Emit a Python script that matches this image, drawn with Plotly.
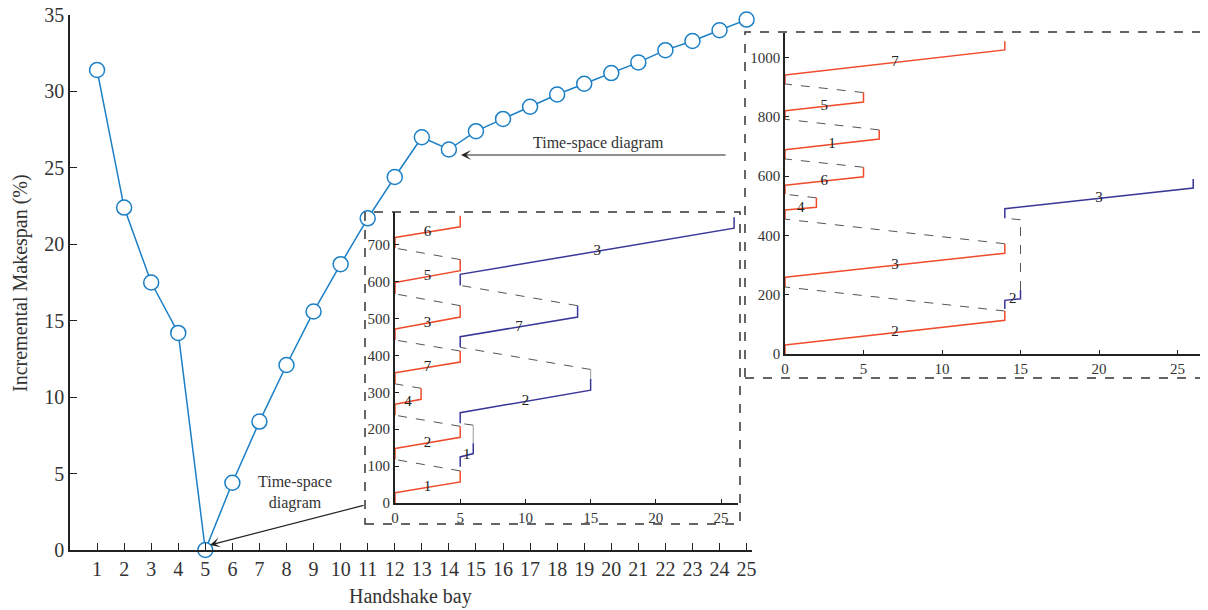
import plotly.graph_objects as go

# page body has an 8px margin, so the figure is 8px smaller and shifted
OFF = 8
W, H = 1208 - OFF, 610 - OFF

# ---------------- main series ----------------
bays = list(range(1, 26))
makespan = [31.4, 22.4, 17.5, 14.2, 0.0, 4.4, 8.4, 12.1, 15.6, 18.7, 21.7, 24.4,
            27.0, 26.2, 27.4, 28.2, 29.0, 29.8, 30.5, 31.2, 31.9, 32.7, 33.3, 34.0, 34.7]
y_ticks = [0, 5, 10, 15, 20, 25, 30, 35]

# ---------------- inset A: handshake bay 5 ----------------
a_hs = 5
a_red_jobs = [1, 2, 4, 7, 3, 5, 6]
a_red_dest = [5, 5, 2, 5, 5, 5, 5]
a_red_pick = [0, 118, 238, 323, 442, 567, 691]
a_red_dep = [28, 148, 268, 353, 472, 598, 720]
a_red_arr = [57, 178, 281, 382, 504, 630, 749]
a_red_rel = [87, 208, 311, 412, 535, 660, 779]
a_blue_jobs = [1, 2, 7, 3]
a_blue_dest = [6, 15, 14, 26]
a_blue_pick = [98, 216, 422, 590]
a_blue_dep = [125, 245, 451, 620]
a_blue_arr = [134, 306, 504, 745]
a_blue_rel = [162, 336, 535, 775]
a_blue_wait = [211, 362, 535, None]
a_yticks = [0, 100, 200, 300, 400, 500, 600, 700]

# ---------------- inset B: handshake bay 14 ----------------
b_hs = 14
b_red_jobs = [2, 3, 4, 6, 1, 5, 7]
b_red_dest = [14, 14, 2, 5, 6, 5, 14]
b_red_pick = [0, 226, 455, 539, 658, 792, 911]
b_red_dep = [30, 259, 486, 569, 689, 821, 941]
b_red_arr = [114, 340, 495, 598, 725, 850, 1026]
b_red_rel = [145, 372, 527, 630, 756, 882, 1055]
b_blue_jobs = [2, 3]
b_blue_dest = [15, 26]
b_blue_pick = [152, 458]
b_blue_dep = [181, 490]
b_blue_arr = [186, 560]
b_blue_rel = [216, 590]
b_blue_wait = [453, None]
b_yticks = [0, 200, 400, 600, 800, 1000]

inset_xticks = [0, 5, 10, 15, 20, 25]

RED = "#ef4a2a"
BLUE = "#3b3799"
GREY = "#555555"
MAIN = "#1b7fc6"
FONT = "Liberation Serif"
TXT = "#333333"

fig = go.Figure()

fig.add_trace(go.Scatter(
    x=bays, y=makespan, mode="lines+markers", xaxis="x", yaxis="y",
    line=dict(color=MAIN, width=1.5),
    marker=dict(symbol="circle", size=15, color="white", line=dict(color=MAIN, width=1.5)),
    cliponaxis=False, showlegend=False, hoverinfo="skip"))


def add_inset(xa, ya, hs, rj, rd, rp, rdep, rarr, rrel, bj, bd, bp, bdep, barr, brel, bwait, wait_dash):
    rx, ry = [], []
    for i in range(len(rj)):
        rx += [0, 0, rd[i], rd[i], None]
        ry += [rp[i], rdep[i], rarr[i], rrel[i], None]
    gx, gy = [], []
    for i in range(len(rj) - 1):
        gx += [rd[i], 0, None]
        gy += [rrel[i], rp[i + 1], None]
    bx, by = [], []
    for i in range(len(bj)):
        bx += [hs, hs, bd[i], bd[i], None]
        by += [bp[i], bdep[i], barr[i], brel[i], None]
    wx, wy = [], []
    for i in range(len(bj) - 1):
        w = bwait[i]
        if w is not None and w > brel[i]:
            wx += [bd[i], bd[i], None]
            wy += [brel[i], w, None]
        gx += [bd[i], hs, None]
        gy += [w if w is not None else brel[i], bp[i + 1], None]
    fig.add_trace(go.Scatter(x=gx, y=gy, mode="lines", xaxis=xa, yaxis=ya,
                             line=dict(color=GREY, width=1, dash="dash"),
                             showlegend=False, hoverinfo="skip"))
    if wait_dash:
        wline = dict(color=GREY, width=1, dash="dash")
    else:
        wline = dict(color="#aaaaaa", width=1.2)
    fig.add_trace(go.Scatter(x=wx, y=wy, mode="lines", xaxis=xa, yaxis=ya, line=wline,
                             showlegend=False, hoverinfo="skip"))
    fig.add_trace(go.Scatter(x=rx, y=ry, mode="lines", xaxis=xa, yaxis=ya,
                             line=dict(color=RED, width=1.5),
                             showlegend=False, hoverinfo="skip", cliponaxis=False))
    fig.add_trace(go.Scatter(x=bx, y=by, mode="lines", xaxis=xa, yaxis=ya,
                             line=dict(color=BLUE, width=1.5),
                             showlegend=False, hoverinfo="skip", cliponaxis=False))
    lx = [rd[i] / 2 for i in range(len(rj))] + [(hs + bd[i]) / 2 for i in range(len(bj))]
    ly = [(rdep[i] + rarr[i]) / 2 for i in range(len(rj))] + [(bdep[i] + barr[i]) / 2 for i in range(len(bj))]
    lt = [str(j) for j in rj] + [str(j) for j in bj]
    fig.add_trace(go.Scatter(x=lx, y=ly, text=lt, mode="text", xaxis=xa, yaxis=ya,
                             textfont=dict(family=FONT, size=15, color="#222"),
                             textposition="middle center", showlegend=False, hoverinfo="skip"))


add_inset("x2", "y2", a_hs, a_red_jobs, a_red_dest, a_red_pick, a_red_dep, a_red_arr, a_red_rel,
          a_blue_jobs, a_blue_dest, a_blue_pick, a_blue_dep, a_blue_arr, a_blue_rel, a_blue_wait, False)
add_inset("x3", "y3", b_hs, b_red_jobs, b_red_dest, b_red_pick, b_red_dep, b_red_arr, b_red_rel,
          b_blue_jobs, b_blue_dest, b_blue_pick, b_blue_dep, b_blue_arr, b_blue_rel, b_blue_wait, True)


def px(x):
    return (x - OFF) / W


def py(y):
    return 1 - (y - OFF) / H


def ax_style(size, lw, tl):
    return dict(showgrid=False, zeroline=False, showline=True, linecolor="#222", linewidth=lw,
                ticks="inside", tickcolor="#222", ticklen=tl, automargin=False,
                ticklabeloverflow="allow",
                tickfont=dict(family=FONT, size=size, color=TXT))


fig.update_layout(
    template="none",
    width=W, height=H, margin=dict(l=0, r=0, t=0, b=0, pad=0, autoexpand=False),
    paper_bgcolor="white", plot_bgcolor="rgba(0,0,0,0)", showlegend=False,
    font=dict(family=FONT, color=TXT),
    xaxis=dict(domain=[px(70), px(752)], range=[0, 25.2], tickvals=bays, anchor="y", **ax_style(20, 1.5, 7)),
    yaxis=dict(domain=[py(550), py(15)], range=[0, 35], tickvals=y_ticks, anchor="x", **ax_style(20, 1.5, 7)),
    xaxis2=dict(domain=[px(395), px(738)], range=[0, 26.3], tickvals=inset_xticks, anchor="y2", **ax_style(15, 1.5, 4)),
    yaxis2=dict(domain=[py(503), py(212)], range=[0, 789], tickvals=a_yticks, anchor="x2", **ax_style(15, 2, 4)),
    xaxis3=dict(domain=[px(785), px(1205)], range=[0, 26.75], tickvals=inset_xticks, anchor="y3", **ax_style(15, 1.5, 4)),
    yaxis3=dict(domain=[py(354), py(33)], range=[0, 1083], tickvals=b_yticks, anchor="x3", **ax_style(15, 1.5, 4)),
)

for (x0, y0, x1, y1) in [(365, 212, 740, 524), (745, 32, 1205, 378)]:
    fig.add_shape(type="rect", xref="paper", yref="paper",
                  x0=px(x0), x1=px(x1), y0=py(y1), y1=py(y0),
                  line=dict(color="#333", width=1.5, dash="dash"), layer="above")


def label(x, y, text, size, angle=0):
    fig.add_annotation(xref="paper", yref="paper", x=px(x), y=py(y), text=text,
                       xanchor="center", yanchor="middle", textangle=angle,
                       showarrow=False, font=dict(family=FONT, size=size, color=TXT))


label(410, 596, "Handshake bay", 20)
label(20, 283, "Incremental Makespan (%)", 20, -90)
label(598, 143, "Time-space diagram", 16)
label(295, 492, "Time-space<br>diagram", 16)

fig.add_annotation(xref="paper", yref="paper", x=px(461), y=py(155), ax=266, ay=0,
                   axref="pixel", ayref="pixel", text="", showarrow=True,
                   arrowhead=3, arrowsize=1.4, arrowwidth=1.2, arrowcolor="#222")
fig.add_annotation(xref="paper", yref="paper", x=px(210), y=py(545), ax=155, ay=-40,
                   axref="pixel", ayref="pixel", text="", showarrow=True,
                   arrowhead=3, arrowsize=1.4, arrowwidth=1.2, arrowcolor="#222")

fig.write_html("out.html")
